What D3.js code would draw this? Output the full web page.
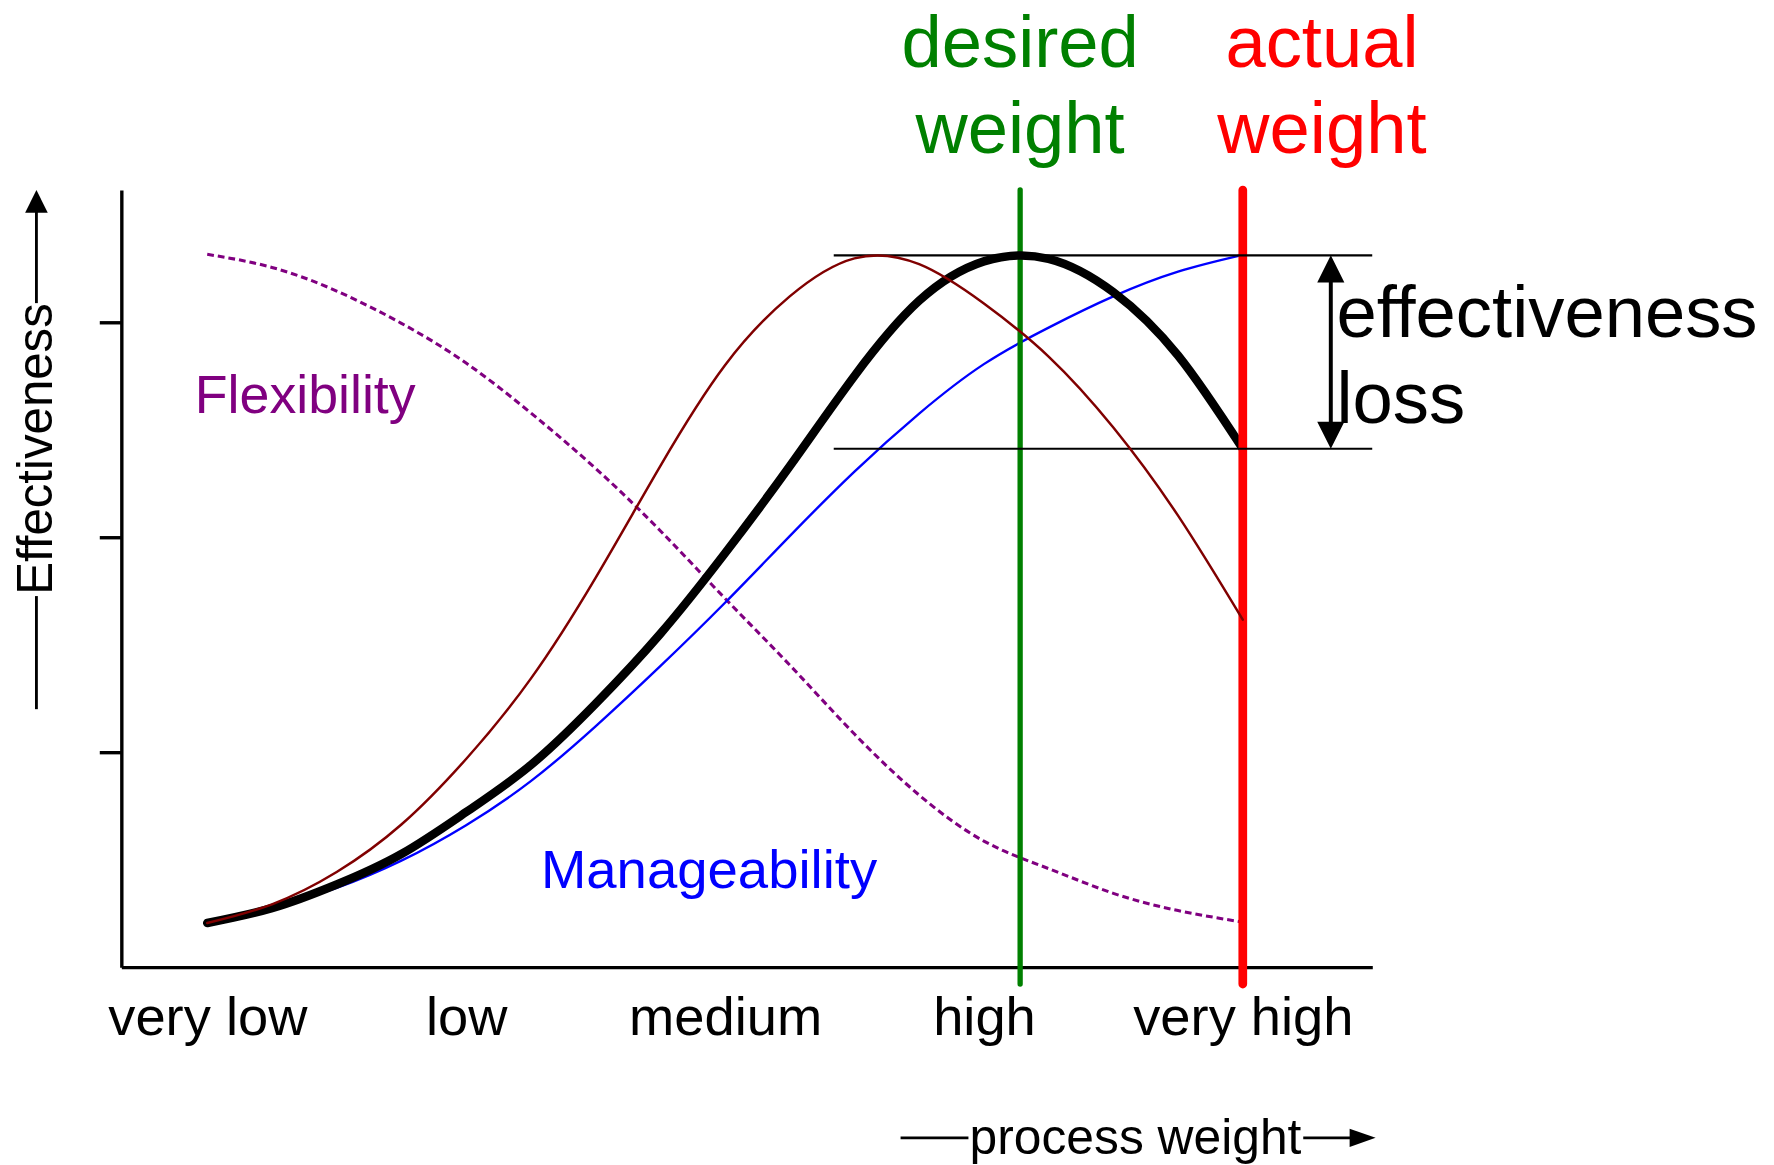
<html>
<head>
<script src="https://d3js.org/d3.v7.min.js"></script>
<style>
  body { margin: 0; background: #fff; }
  svg { display: block; font-family: "Liberation Sans", Arial, sans-serif; }
</style>
</head>
<body>
<svg width=1774 height=1165 viewBox="0 0 1568 1030"></svg>
<script>
// sample positions along the weight axis (0 = very low ... 4 = very high)
const weights = [0, 0.25, 0.5, 0.75, 1, 1.25, 1.5, 1.75, 2, 2.25, 2.5, 2.75, 3, 3.25, 3.5, 3.75, 4];
const categories = ['very low', 'low', 'medium', 'high', 'very high'];
const flexibility = [3.316, 3.255, 3.145, 2.995, 2.81, 2.578, 2.32, 2.03, 1.715, 1.405, 1.084, 0.8, 0.586, 0.458, 0.343, 0.263, 0.209];
const manageability = [0.205, 0.274, 0.368, 0.495, 0.66, 0.865, 1.12, 1.4, 1.695, 2.005, 2.305, 2.575, 2.805, 2.975, 3.12, 3.235, 3.313];
const darkCurve = [0.205, 0.292, 0.442, 0.663, 0.968, 1.342, 1.811, 2.331, 2.8, 3.12, 3.297, 3.27, 3.087, 2.84, 2.51, 2.1, 1.616];
const effectiveness = [0.205, 0.274, 0.384, 0.526, 0.721, 0.94, 1.225, 1.55, 1.925, 2.33, 2.75, 3.1, 3.283, 3.295, 3.14, 2.845, 2.411];
const yTicks = [1, 2, 3];
const desiredWeight = 3.14, actualWeight = 4;
const peakEffectiveness = 3.311;
const refStart = 2.42, arrowAt = 4.34;

let svg = d3.select('svg');

let x = d3.scaleLinear().domain([-0.332, 4.5]).range([107, 1213]),
  y = d3.scaleLinear().domain([0, 3.615]).range([855, 168]);

let line = d3.line()
  .x((d, i) => x(weights[i]))
  .y(d => y(d))
  .curve(d3.curveNatural);

// axes
let yAxis = svg.append('g')
  .attr('transform', `translate(${x.range()[0]},0)`)
  .call(d3.axisLeft(y).tickValues(yTicks).tickFormat('').tickSize(19).tickSizeOuter(0));
yAxis.selectAll('path, line').attr('stroke', '#000').attr('stroke-width', 3);

let xAxis = svg.append('g')
  .attr('transform', `translate(0,${y(0)})`)
  .call(d3.axisBottom(x).tickValues(d3.range(categories.length))
    .tickFormat(i => categories[i]).tickSize(0).tickSizeOuter(0).tickPadding(26));
xAxis.select('.domain').attr('stroke', '#000').attr('stroke-width', 3);
xAxis.selectAll('text')
  .attr('font-size', 48)
  .attr('font-family', '"Liberation Sans", Arial, sans-serif')
  .attr('fill', '#000');

// curves
svg.append('path').datum(flexibility)
  .attr('d', line).attr('fill', 'none')
  .attr('stroke', '#800080').attr('stroke-width', 2.7)
  .attr('stroke-dasharray', '6,3.5');

svg.append('path').datum(manageability)
  .attr('d', line).attr('fill', 'none')
  .attr('stroke', '#0000ff').attr('stroke-width', 2.1);

svg.append('line')
  .attr('x1', x(desiredWeight)).attr('x2', x(desiredWeight))
  .attr('y1', y.range()[1]).attr('y2', y(0) + 15)
  .attr('stroke', '#008000').attr('stroke-width', 4.7).attr('stroke-linecap', 'round');

svg.append('path').datum(effectiveness)
  .attr('d', line).attr('fill', 'none')
  .attr('stroke', '#000').attr('stroke-width', 7.5).attr('stroke-linecap', 'round');

svg.append('line')
  .attr('x1', x(actualWeight)).attr('x2', x(actualWeight))
  .attr('y1', y.range()[1]).attr('y2', y(0) + 15)
  .attr('stroke', '#ff0000').attr('stroke-width', 7.7).attr('stroke-linecap', 'round');

// effectiveness loss markers
let atActual = effectiveness[effectiveness.length - 1];
svg.selectAll('line.ref')
  .data([peakEffectiveness, atActual])
  .join('line')
  .attr('class', 'ref')
  .attr('x1', x(refStart)).attr('x2', x.range()[1])
  .attr('y1', d => y(d)).attr('y2', d => y(d))
  .attr('stroke', '#000').attr('stroke-width', 1.8);

svg.append('path').datum(darkCurve)
  .attr('d', line).attr('fill', 'none')
  .attr('stroke', '#800000').attr('stroke-width', 2.2).attr('stroke-linecap', 'round');

let ax = x(arrowAt), yt = y(peakEffectiveness), yb = y(atActual);
svg.append('line')
  .attr('x1', ax).attr('x2', ax).attr('y1', yt + 18).attr('y2', yb - 18)
  .attr('stroke', '#000').attr('stroke-width', 3.5);
svg.append('path')
  .attr('d', `M${ax},${yt}L${ax - 12},${yt + 24}L${ax + 12},${yt + 24}Z M${ax},${yb}L${ax - 12},${yb - 24}L${ax + 12},${yb - 24}Z`)
  .attr('fill', '#000');

svg.append('text').text('effectiveness')
  .attr('x', ax + 5).attr('y', 298).attr('font-size', 64);
svg.append('text').text('loss')
  .attr('x', ax + 5).attr('y', 374).attr('font-size', 64);

// weight labels
svg.append('g').selectAll('text')
  .data(['desired', 'weight'])
  .join('text')
  .text(d => d)
  .attr('x', x(desiredWeight)).attr('y', (d, i) => 59 + i * 76)
  .attr('text-anchor', 'middle').attr('font-size', 64).attr('fill', '#008000');
svg.append('g').selectAll('text')
  .data(['actual', 'weight'])
  .join('text')
  .text(d => d)
  .attr('x', x(actualWeight) + 70).attr('y', (d, i) => 59 + i * 76)
  .attr('text-anchor', 'middle').attr('font-size', 64).attr('fill', '#ff0000');

// series labels
svg.append('text').text('Flexibility')
  .attr('x', 172).attr('y', 365).attr('font-size', 47.5).attr('fill', '#800080');
svg.append('text').text('Manageability')
  .attr('x', 478).attr('y', 785).attr('font-size', 48.2).attr('fill', '#0000ff');

// axis titles with arrows
let yl = svg.append('g');
yl.append('line').attr('x1', 32).attr('x2', 32).attr('y1', 627).attr('y2', 527)
  .attr('stroke', '#000').attr('stroke-width', 2.5);
yl.append('line').attr('x1', 32).attr('x2', 32).attr('y1', 268).attr('y2', 185)
  .attr('stroke', '#000').attr('stroke-width', 2.5);
yl.append('path').attr('d', `M32,${y.range()[1]}L22,188L42,188Z`).attr('fill', '#000');
yl.append('text').text('Effectiveness')
  .attr('transform', 'translate(46,397) rotate(-90)')
  .attr('text-anchor', 'middle').attr('font-size', 43.5);

let xl = svg.append('g');
xl.append('line').attr('x1', 796).attr('x2', 856).attr('y1', 1006).attr('y2', 1006)
  .attr('stroke', '#000').attr('stroke-width', 2.5);
xl.append('line').attr('x1', 1152).attr('x2', 1196).attr('y1', 1006).attr('y2', 1006)
  .attr('stroke', '#000').attr('stroke-width', 2.5);
xl.append('path').attr('d', `M${x.range()[1] + 3},1006L1193,998L1193,1014Z`).attr('fill', '#000');
xl.append('text').text('process weight')
  .attr('x', 857).attr('y', 1020).attr('font-size', 44);
</script>
</body>
</html>
